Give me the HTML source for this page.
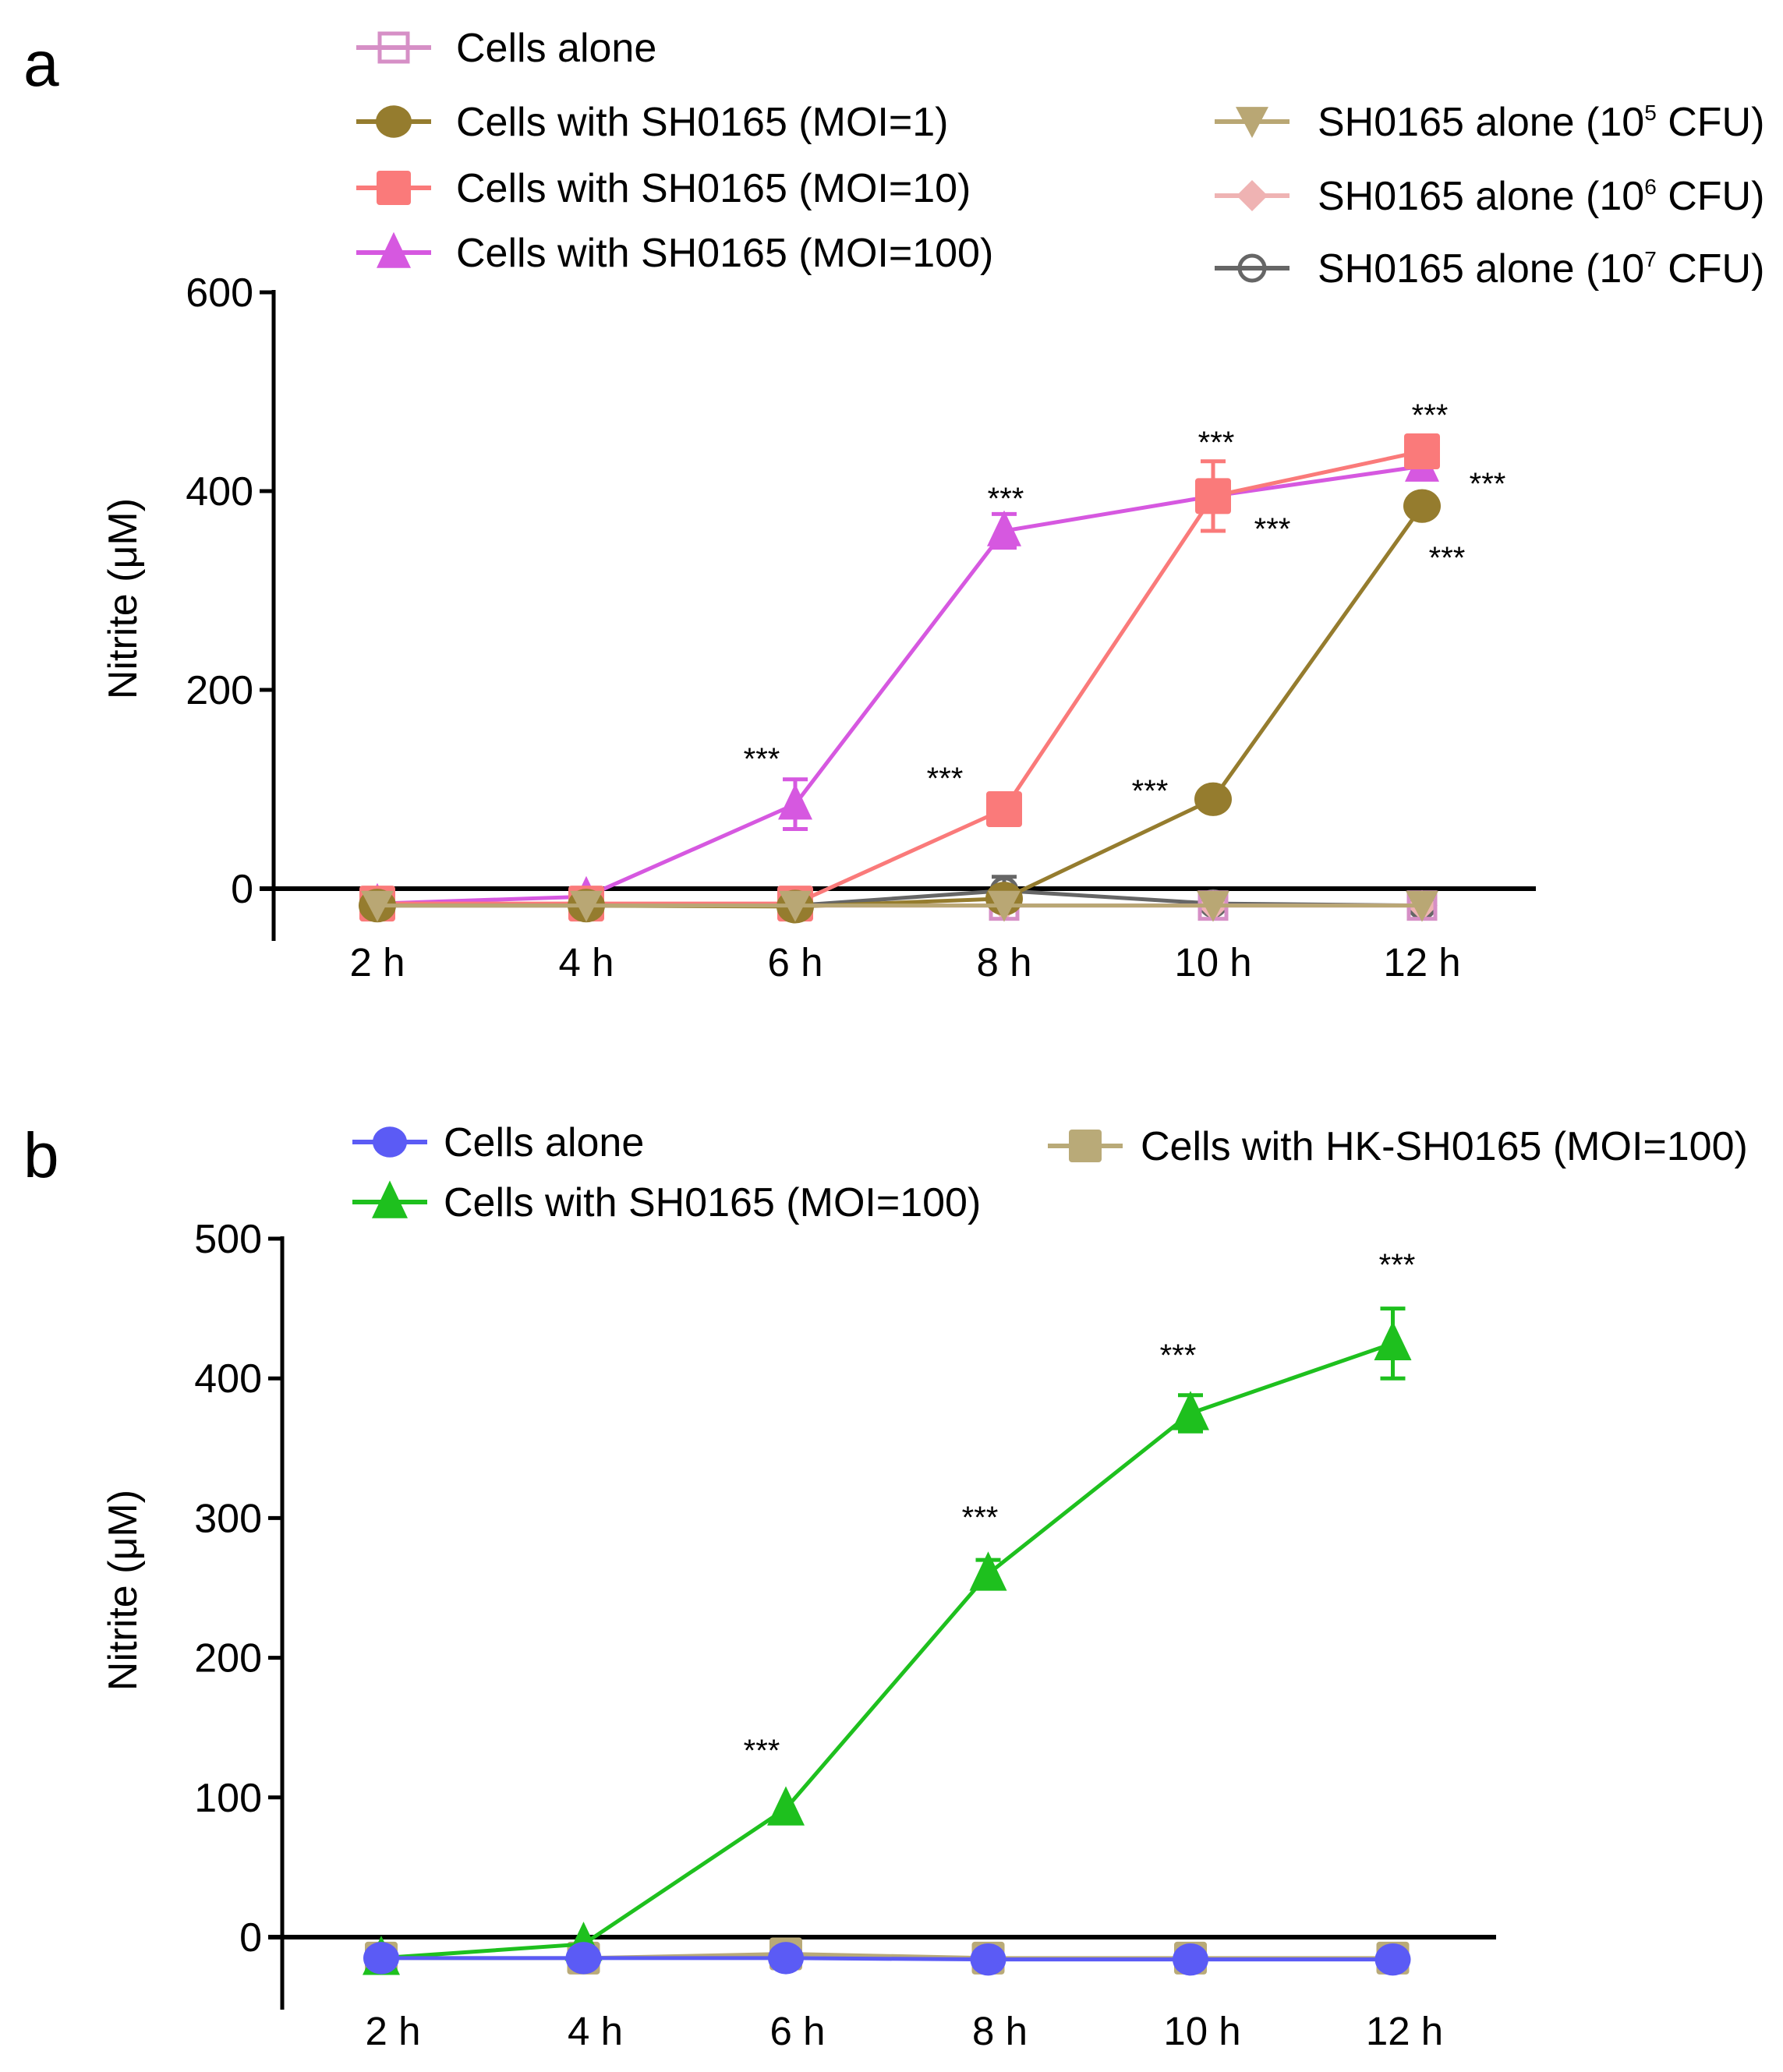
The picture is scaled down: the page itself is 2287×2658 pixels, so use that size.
<!DOCTYPE html>
<html><head><meta charset="utf-8"><style>
html,body{margin:0;padding:0;background:#fff}
svg{display:block;font-family:"Liberation Sans",Arial,sans-serif}
</style></head><body>
<svg id="fig" width="2287" height="2658" viewBox="0 0 2287 2658"></svg>
<script>
const categories=["2 h","4 h","6 h","8 h","10 h","12 h"];
const aTicks=[0,200,400,600];
const bTicks=[0,100,200,300,400,500];
const aCellsAlone=[-17,-17,-17,-17,-17,-17];
const aMoi1=[-17,-17,-18,-10,90,385];
const aMoi10=[-15,-15,-15,80,395,440];
const aMoi100=[-15,-8,85,360,395,425];
const aMoi100Err=[0,0,25,17,0,0];
const aMoi10Err=[0,0,0,0,35,0];
const a105=[-17,-17,-17,-17,-17,-17];
const a106=[-17,-17,-17,-17,-17,-17];
const a107=[-17,-17,-17,-2,-15,-17];
const a107Err=[0,0,0,14,0,0];
const bCellsAlone=[-15,-15,-15,-16,-16,-16];
const bMoi100=[-15,-5,92,260,375,425];
const bMoi100Err=[0,0,0,10,13,25];
const bHK=[-15,-15,-12,-15,-15,-15];

const NS="http://www.w3.org/2000/svg";
const svg=document.getElementById('fig');
function el(tag,attrs,parent,text){const e=document.createElementNS(NS,tag);for(const k in attrs)e.setAttribute(k,attrs[k]);if(text!==undefined)e.textContent=text;(parent||svg).appendChild(e);return e;}

const A={x0:484,dx:268,y0:1140,k:765/600,axisX:351,top:375,bottom:1207,right:1970};
const B={x0:489,dx:259.5,y0:2485,k:896/500,axisX:362,top:1589,bottom:2578,right:1919};
function ax(P,i){return P.x0+P.dx*i;}
function ay(P,v){return P.y0-v*P.k;}

function marker(g,shape,x,y,color,s){
  let m;
  if(shape==='circle'){m=el('ellipse',{cx:x,cy:y,rx:s*0.5,ry:s*0.45,fill:color},g);}
  else if(shape==='square'){m=el('rect',{x:x-s/2,y:y-s/2,width:s,height:s,rx:4,fill:color},g);}
  else if(shape==='osquare'){m=el('rect',{x:x-s/2+3,y:y-s/2+3,width:s-6,height:s-6,fill:'none',stroke:color,'stroke-width':5},g);}
  else if(shape==='tri'){m=el('polygon',{points:`${x},${y-s*0.6} ${x+s*0.5},${y+s*0.45} ${x-s*0.5},${y+s*0.45}`,fill:color},g);}
  else if(shape==='tridown'){m=el('polygon',{points:`${x},${y+s*0.5} ${x+s*0.5},${y-s*0.45} ${x-s*0.5},${y-s*0.45}`,fill:color},g);}
  else if(shape==='diamond'){m=el('polygon',{points:`${x},${y-s*0.5} ${x+s*0.5},${y} ${x},${y+s*0.5} ${x-s*0.5},${y}`,fill:color},g);}
  else if(shape==='ocircle'){m=el('circle',{cx:x,cy:y,r:s*0.4,fill:'none',stroke:color,'stroke-width':5},g);}
  
  
  return m;
}

function series(P,name,vals,errs,color,shape,size){
  const g=el('g',{});
  
  
  if(errs){vals.forEach((v,i)=>{if(errs[i]>0){const x=ax(P,i);
    const e=el('path',{d:`M${x},${ay(P,v-errs[i])}V${ay(P,v+errs[i])}M${x-16},${ay(P,v-errs[i])}h32M${x-16},${ay(P,v+errs[i])}h32`,stroke:color,'stroke-width':5,fill:'none'},g);
    
    }});}
  const ln=el('polyline',{points:vals.map((v,i)=>ax(P,i)+','+ay(P,v)).join(' '),fill:'none',stroke:color,'stroke-width':5},g);
  
  
  vals.forEach((v,i)=>marker(g,shape,ax(P,i),ay(P,v),color,size));
}

function axes(P,ticks,labelOffset,titleY,pname){
  const g=el('g',{});
  
  
  el('line',{x1:P.axisX,y1:ay(P,ticks[ticks.length-1])-3,x2:P.axisX,y2:P.bottom,stroke:'#000','stroke-width':5},g);
  el('line',{x1:P.axisX-18,y1:P.y0,x2:P.right,y2:P.y0,stroke:'#000','stroke-width':6},g);
  ticks.forEach(t=>{const y=ay(P,t);
    el('line',{x1:P.axisX-18,y1:y,x2:P.axisX,y2:y,stroke:'#000','stroke-width':5},g);
    const tl=el('text',{x:P.axisX-26,y:y+18,'font-size':52,'text-anchor':'end'},g,String(t));
    
    });
  categories.forEach((c,i)=>{
    const tl=el('text',{x:ax(P,i)+labelOffset,y:P.bottom+45,'font-size':51,'text-anchor':'middle'},g,c);
    
    });
  const t=el('text',{x:0,y:0,'font-size':52,'text-anchor':'middle',transform:`translate(175,${titleY}) rotate(-90)`},g,'Nitrite (μM)');
  
  
}

function legend(x,y,tx,label,color,shape,size,sup){
  const g=el('g',{});
  
  
  el('line',{x1:x-48,y1:y,x2:x+48,y2:y,stroke:color,'stroke-width':6},g);
  marker(g,shape,x,y,color,size);
  const t=el('text',{x:tx,y:y+18,'font-size':52},g);
  if(sup){t.appendChild(document.createTextNode(label[0]));
    el('tspan',{'font-size':28,dy:-20},t,sup);
    el('tspan',{dy:20},t,label[1]);}
  else t.textContent=label;
}

function stars(list){list.forEach(p=>{const t=el('text',{x:p[0],y:p[1]+15,'font-size':40,'text-anchor':'middle'},svg,'***');
  
  });}

// panel a
const la=el('text',{x:30,y:110,'font-size':82},svg,'a');

axes(A,aTicks,0,768,'panel-a');
series(A,'sh0165-1e7',a107,a107Err,'#666666','ocircle',40);
series(A,'sh0165-1e6',a106,null,'#efb3b3','diamond',40);
series(A,'cells-alone-a',aCellsAlone,null,'#d68fc6','osquare',40);
series(A,'moi-100-a',aMoi100,aMoi100Err,'#d658e0','tri',44);
series(A,'moi-10',aMoi10,aMoi10Err,'#fa7a7a','square',46);
series(A,'moi-1',aMoi1,null,'#957c2e','circle',48);
series(A,'sh0165-1e5',a105,null,'#b9a774','tridown',42);
stars([[977,972],[1212,997],[1290,638],[1475,1013],[1560,566],[1632,677],[1834,531],[1908,619],[1856,714]]);
legend(505,61,585,'Cells alone','#d68fc6','osquare',42);
legend(505,156,585,'Cells with SH0165 (MOI=1)','#957c2e','circle',46);
legend(505,241,585,'Cells with SH0165 (MOI=10)','#fa7a7a','square',44);
legend(505,324,585,'Cells with SH0165 (MOI=100)','#d658e0','tri',44);
legend(1606,156,1690,['SH0165 alone (10',' CFU)'],'#b9a774','tridown',42,'5');
legend(1606,251,1690,['SH0165 alone (10',' CFU)'],'#efb3b3','diamond',40,'6');
legend(1606,344,1690,['SH0165 alone (10',' CFU)'],'#666666','ocircle',40,'7');

// panel b
const lb=el('text',{x:30,y:1510,'font-size':82},svg,'b');

axes(B,bTicks,15,2040,'panel-b');
series(B,'hk-sh0165',bHK,null,'#b9aa78','square',42);
series(B,'moi-100-b',bMoi100,bMoi100Err,'#1ec01e','tri',48);
series(B,'cells-alone-b',bCellsAlone,null,'#5b5bf5','circle',46);
stars([[977,2244],[1257,1945],[1511,1737],[1792,1621]]);
legend(500,1465,569,'Cells alone','#5b5bf5','circle',44);
legend(500,1542,569,'Cells with SH0165 (MOI=100)','#1ec01e','tri',46);
legend(1392,1470,1463,'Cells with HK-SH0165 (MOI=100)','#b9aa78','square',42);
</script>
</body></html>
